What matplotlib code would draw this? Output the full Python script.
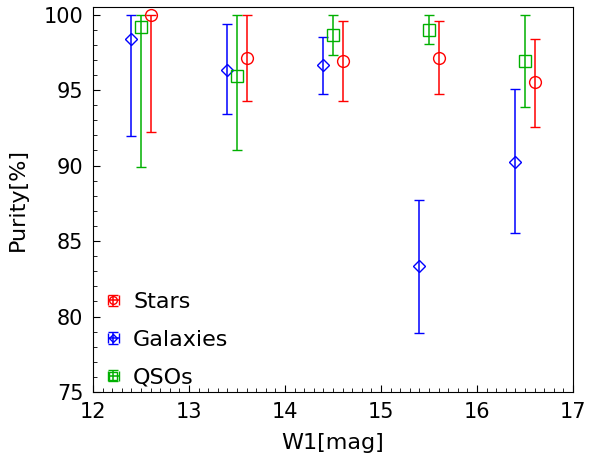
import matplotlib
matplotlib.use("Agg")
import matplotlib.pyplot as plt
from matplotlib.ticker import MultipleLocator
from matplotlib.legend_handler import HandlerErrorbar
import numpy as np

bins = [12.5, 13.5, 14.5, 15.5, 16.5]

stars = [100.0, 97.15, 96.95, 97.15, 95.5]
stars_lo = [92.2, 94.25, 94.25, 94.75, 92.55]
stars_hi = [100.0, 100.0, 99.6, 99.6, 98.35]

gal = [98.35, 96.35, 96.65, 83.35, 90.25]
gal_lo = [91.95, 93.4, 94.75, 78.9, 85.5]
gal_hi = [100.0, 99.35, 98.5, 87.75, 95.05]

qso = [99.15, 95.9, 98.65, 98.95, 96.95]
qso_lo = [89.9, 91.05, 97.35, 98.05, 93.85]
qso_hi = [100.0, 100.0, 100.0, 100.0, 100.0]

fig = plt.figure(figsize=(5.91, 4.62), dpi=100)
ax = fig.add_axes([93/591, 1 - 392/462, (573-93)/591, (392-7)/462])

containers = []
def draw(offset, vals, lo, hi, color, marker, ms, label):
    x = np.array(bins) + offset
    v = np.array(vals)
    yerr = [v - np.array(lo), np.array(hi) - v]
    c = ax.errorbar(x, v, yerr=yerr, fmt=marker, color=color, mfc='none', mec=color,
                    ms=ms, mew=1.0, elinewidth=1.1, capsize=3.3, capthick=1.1, label=label)
    containers.append(c)

draw(0.1, stars, stars_lo, stars_hi, 'red', 'o', 8.5, 'Stars')
draw(-0.1, gal, gal_lo, gal_hi, 'blue', 'D', 6.2, 'Galaxies')
draw(0.0, qso, qso_lo, qso_hi, '#00b000', 's', 8.5, 'QSOs')

ax.set_xlim(12, 17)
ax.set_ylim(75, 100.5)
ax.xaxis.set_major_locator(MultipleLocator(1))
ax.xaxis.set_minor_locator(MultipleLocator(0.1))
ax.yaxis.set_major_locator(MultipleLocator(5))
ax.yaxis.set_minor_locator(MultipleLocator(1))
ax.tick_params(which='both', direction='in', labelsize=15, pad=7)
ax.tick_params(which='major', length=5)
ax.tick_params(which='minor', length=3)
ax.set_xlabel('W1[mag]', fontsize=16, labelpad=8)
ax.set_ylabel('Purity[%]', fontsize=16, labelpad=11)

# legend handles show both bar directions
for c in containers:
    c.has_xerr = True
ax.legend(loc='lower left', bbox_to_anchor=(0.019, 0.0), frameon=False, fontsize=16,
          markerscale=0.65, handlelength=0.6, handletextpad=0.6, borderaxespad=0.1,
          borderpad=0.1, labelspacing=0.8,
          handler_map={type(containers[0]): HandlerErrorbar(xerr_size=0.25)})

fig.savefig('out.png', dpi=100)
